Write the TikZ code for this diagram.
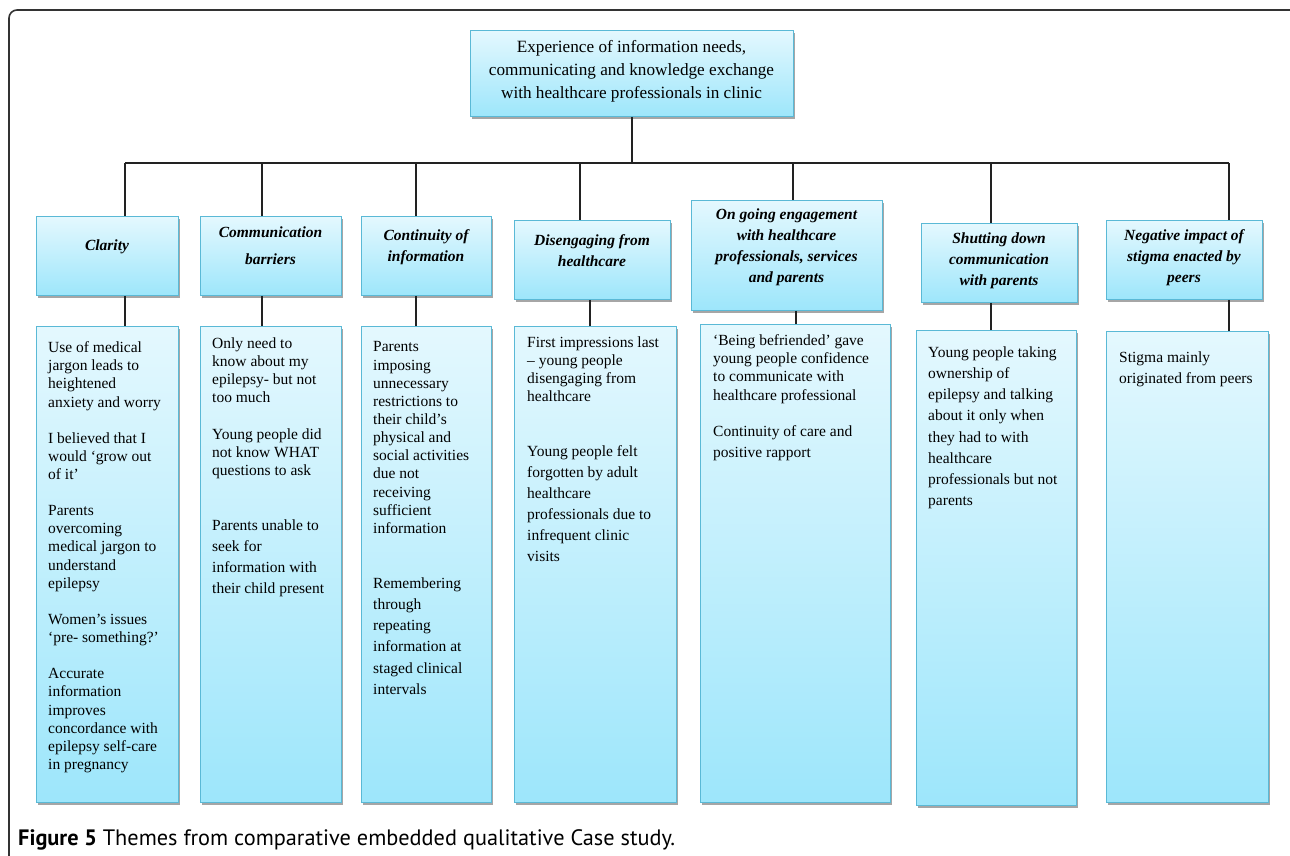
\documentclass[tikz,border=0pt]{standalone}
\usepackage{fontspec}
\setmainfont{Liberation Serif}
\newfontfamily\capfont{PT Sans}
\usetikzlibrary{shadows}

\definecolor{boxtop}{HTML}{E4F8FE}
\definecolor{boxbot}{HTML}{9DE6FB}
\definecolor{boxline}{HTML}{5AB9D6}
\definecolor{wire}{HTML}{222222}

\begin{document}
\begin{tikzpicture}[x=1pt,y=-1pt,
    theme/.style={draw=boxline, line width=0.9pt, top color=boxtop, bottom color=boxbot,
      anchor=north west, inner sep=0pt,
      drop shadow={shadow xshift=1.5pt, shadow yshift=-2.5pt, opacity=0.35, fill=black}},
    headtext/.style={font=\fontsize{15.5}{21}\selectfont\bfseries\itshape, align=center, inner sep=0pt},
    bodytext/.style={font=\fontsize{15.5}{18.15}\selectfont, align=left, anchor=north west, inner sep=0pt},
    wire/.style={draw=wire, line width=1.2pt}]
  \useasboundingbox (0,0) rectangle (1290,855);

  % frame
  \draw[black!80, line width=1.6pt, rounded corners=8pt] (9,870) -- (9,10) -- (1300,10);

  % top theme
  \node[theme, minimum width=323pt, minimum height=86pt] (top) at (470,30) {};
  \node[font=\fontsize{17.2}{23}\selectfont, align=center, inner sep=0pt] (toptext) at (631.5,71)
    {Experience of information needs,\\ communicating and knowledge exchange\\ with healthcare professionals in clinic};

  % sub themes
  \node[theme, minimum width=142pt, minimum height=79pt] (h1) at (36,216) {};
  \node[theme, minimum width=141pt, minimum height=79pt] (h2) at (200,216) {};
  \node[theme, minimum width=130pt, minimum height=79pt] (h3) at (361,216) {};
  \node[theme, minimum width=156pt, minimum height=79pt] (h4) at (514,220) {};
  \node[theme, minimum width=191pt, minimum height=110pt] (h5) at (691,200) {};
  \node[theme, minimum width=156pt, minimum height=79pt] (h6) at (921,223) {};
  \node[theme, minimum width=156pt, minimum height=79pt] (h7) at (1106,220) {};

  \node[headtext] (h1t) at (107,247) {Clarity};
  \node[headtext] (h2t) at (270.5,245.5) {Communication\\[6pt] barriers};
  \node[headtext] (h3t) at (426,247.5) {Continuity of\\ information};
  \node[headtext] (h4t) at (592,250.5) {Disengaging from\\ healthcare};
  \node[headtext] (h5t) at (786.5,247.5) {On going engagement\\ with healthcare\\ professionals, services\\ and parents};
  \node[headtext] (h6t) at (999,261) {Shutting down\\ communication\\ with parents};
  \node[headtext] (h7t) at (1184,257.5) {Negative impact of\\ stigma enacted by\\ peers};

  % quotes
  \node[theme, minimum width=142pt, minimum height=476pt] (b1) at (36,326) {};
  \node[theme, minimum width=141pt, minimum height=476pt] (b2) at (200,326) {};
  \node[theme, minimum width=130pt, minimum height=476pt] (b3) at (361,326) {};
  \node[theme, minimum width=162pt, minimum height=476pt] (b4) at (514,326) {};
  \node[theme, minimum width=190pt, minimum height=478pt] (b5) at (700,324) {};
  \node[theme, minimum width=160pt, minimum height=475pt] (b6) at (916,330) {};
  \node[theme, minimum width=162pt, minimum height=471pt] (b7) at (1106,331) {};

  \node[bodytext] (b1t) at (48,341.5) {Use of medical\\ jargon leads to\\ heightened\\ anxiety and worry\\[18pt]
    I believed that I\\ would ‘grow out\\ of it’\\[18pt]
    Parents\\ overcoming\\ medical jargon to\\ understand\\ epilepsy\\[18pt]
    Women’s issues\\ ‘pre- something?’\\[18pt]
    Accurate\\ information\\ improves\\ concordance with\\ epilepsy self-care\\ in pregnancy};
  \node[bodytext] (b2t) at (212,337.5) {Only need to\\ know about my\\ epilepsy- but not\\ too much\\[18pt]
    Young people did\\ not know WHAT\\ questions to ask\\[37pt]
    Parents unable to\\[3pt] seek for\\[3pt] information with\\[3pt] their child present};
  \node[bodytext] (b3t) at (373,341.5) {Parents\\ imposing\\ unnecessary\\ restrictions to\\ their child’s\\ physical and\\
    social activities\\ due not\\ receiving\\ sufficient\\ information\\[37pt]
    Remembering\\[3pt] through\\[3pt] repeating\\[3pt] information at\\[3pt] staged clinical\\[3pt] intervals};
  \node[bodytext] (b4t) at (527,336.5) {First impressions last\\ – young people\\ disengaging from\\ healthcare\\[36pt]
    Young people felt\\[3pt] forgotten by adult\\[3pt] healthcare\\[3pt] professionals due to\\[3pt]
    infrequent clinic\\[3pt] visits};
  \node[bodytext] (b5t) at (713,334.5) {‘Being befriended’ gave\\ young people confidence\\ to communicate with\\
    healthcare professional\\[18pt] Continuity of care and\\[3pt] positive rapport};
  \node[bodytext] (b6t) at (928,346.5) {Young people taking\\[3pt] ownership of\\[3pt] epilepsy and talking\\[3pt]
    about it only when\\[3pt] they had to with\\[3pt] healthcare\\[3pt] professionals but not\\[3pt] parents};
  \node[bodytext] (b7t) at (1119,351.5) {Stigma mainly\\[3pt] originated from peers};

  % connectors
  \coordinate (c1) at (125,163);
  \coordinate (c2) at (262,163);
  \coordinate (c3) at (416,163);
  \coordinate (c4) at (580,163);
  \coordinate (c5) at (793,163);
  \coordinate (c6) at (991,163);
  \coordinate (c7) at (1229,163);
  \coordinate (d1) at (125,0);
  \coordinate (d2) at (262,0);
  \coordinate (d3) at (416,0);
  \coordinate (d4) at (590,0);
  \coordinate (d5) at (796,0);
  \coordinate (d6) at (991,0);
  \coordinate (d7) at (1229,0);

  \draw[wire] (top.south) -- (top.south |- c1);
  \draw[wire] (c1) -- (c7);
  \foreach \n in {1,...,7} {
    \draw[wire] (c\n) -- (c\n |- h\n.north);
    \draw[wire] (h\n.south -| d\n) -- (b\n.north -| d\n);
  }

  % caption
  \node[font=\capfont\fontsize{22.3}{26}\selectfont, anchor=base west, inner sep=0pt] (caption) at (18,845)
    {\textbf{Figure 5} Themes from comparative embedded qualitative Case study.};
\end{tikzpicture}
\end{document}
